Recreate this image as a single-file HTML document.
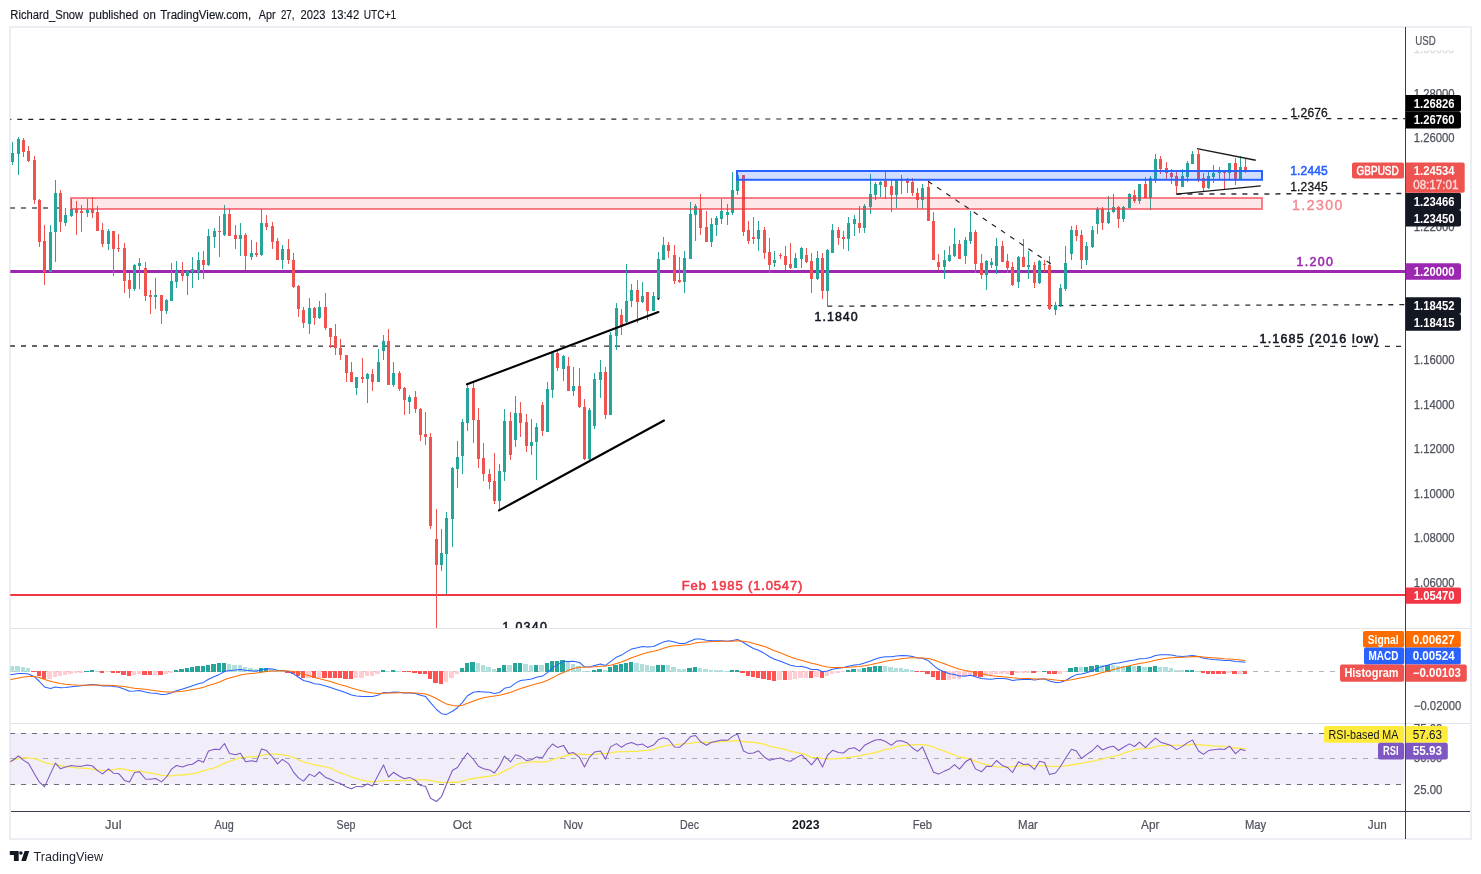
<!DOCTYPE html>
<html lang="en"><head><meta charset="utf-8"><title>GBPUSD chart</title>
<style>html,body{margin:0;padding:0;background:#fff}svg{display:block}</style></head>
<body><svg width="1481" height="874" viewBox="0 0 1481 874" font-family='"Liberation Sans", sans-serif'>
<rect width="1481" height="874" fill="#fff"/>
<text y="18.9" font-size="12" fill="#131722" stroke="#131722" stroke-width="0.15"><tspan x="10.3" textLength="72.9" lengthAdjust="spacingAndGlyphs">Richard_Snow</tspan> <tspan x="89.1" textLength="49.2" lengthAdjust="spacingAndGlyphs">published</tspan> <tspan x="143.1" textLength="12.7" lengthAdjust="spacingAndGlyphs">on</tspan> <tspan x="160.2" textLength="91.0" lengthAdjust="spacingAndGlyphs">TradingView.com,</tspan> <tspan x="258.7" textLength="16.8" lengthAdjust="spacingAndGlyphs">Apr</tspan> <tspan x="280.9" textLength="13.5" lengthAdjust="spacingAndGlyphs">27,</tspan> <tspan x="300.6" textLength="24.9" lengthAdjust="spacingAndGlyphs">2023</tspan> <tspan x="330.9" textLength="28.3" lengthAdjust="spacingAndGlyphs">13:42</tspan> <tspan x="363.8" textLength="32.4" lengthAdjust="spacingAndGlyphs">UTC+1</tspan></text>
<rect x="10" y="27" width="1461" height="812" fill="none" stroke="#eceef4" stroke-width="2"/>
<rect x="11" y="628" width="1459" height="1" fill="#e0e3eb"/>
<rect x="11" y="723" width="1459" height="1" fill="#e0e3eb"/>
<defs><clipPath id="cm"><rect x="10.3" y="28" width="1394.7" height="600"/></clipPath><clipPath id="cd"><rect x="10.3" y="629" width="1394.7" height="94"/></clipPath><clipPath id="cr"><rect x="10.3" y="724" width="1394.7" height="87"/></clipPath></defs>
<g clip-path="url(#cm)">
<path d="M6.3 119.45L1405 118.55" stroke="#222" stroke-width="1.15" stroke-dasharray="5 6" fill="none"/>
<path d="M10 208H59" stroke="#55555c" stroke-width="1.4" stroke-dasharray="5 6" fill="none"/>
<path d="M10 346L1402 346.4" stroke="#2e2e38" stroke-width="1.3" stroke-dasharray="5 6" fill="none"/>
<path d="M827.3 306.1L1405 304.7" stroke="#2e2e38" stroke-width="1.3" stroke-dasharray="5 6" fill="none"/>
<path d="M1176.4 194.1L1405 193.6" stroke="#2e2e38" stroke-width="1.5" stroke-dasharray="5 6" fill="none"/>
<rect x="10" y="270" width="1395" height="3" fill="#9c27b0"/>
<rect x="10" y="594" width="1395" height="2" fill="#f23645"/>
<g shape-rendering="crispEdges">
<rect x="12" y="142" width="1" height="23" fill="#26a69a"/>
<rect x="11" y="153" width="3" height="9" fill="#26a69a"/>
<rect x="18" y="137" width="1" height="38" fill="#26a69a"/>
<rect x="17" y="139" width="3" height="15" fill="#26a69a"/>
<rect x="23" y="138" width="1" height="19" fill="#ef5350"/>
<rect x="22" y="140" width="3" height="12" fill="#ef5350"/>
<rect x="28" y="146" width="1" height="16" fill="#ef5350"/>
<rect x="27" y="151" width="3" height="10" fill="#ef5350"/>
<rect x="34" y="156" width="1" height="48" fill="#ef5350"/>
<rect x="33" y="160" width="3" height="40" fill="#ef5350"/>
<rect x="39" y="199" width="1" height="48" fill="#ef5350"/>
<rect x="38" y="200" width="3" height="42" fill="#ef5350"/>
<rect x="44" y="225" width="1" height="60" fill="#ef5350"/>
<rect x="43" y="241" width="3" height="31" fill="#ef5350"/>
<rect x="50" y="225" width="1" height="47" fill="#26a69a"/>
<rect x="49" y="232" width="3" height="40" fill="#26a69a"/>
<rect x="55" y="180" width="1" height="82" fill="#26a69a"/>
<rect x="54" y="193" width="3" height="39" fill="#26a69a"/>
<rect x="60" y="190" width="1" height="42" fill="#ef5350"/>
<rect x="59" y="193" width="3" height="29" fill="#ef5350"/>
<rect x="65" y="208" width="1" height="18" fill="#26a69a"/>
<rect x="64" y="215" width="3" height="8" fill="#26a69a"/>
<rect x="71" y="199" width="1" height="18" fill="#26a69a"/>
<rect x="70" y="209" width="3" height="7" fill="#26a69a"/>
<rect x="76" y="201" width="1" height="34" fill="#ef5350"/>
<rect x="75" y="209" width="3" height="4" fill="#ef5350"/>
<rect x="81" y="205" width="1" height="27" fill="#ef5350"/>
<rect x="80" y="211" width="3" height="2" fill="#ef5350"/>
<rect x="87" y="199" width="1" height="18" fill="#26a69a"/>
<rect x="86" y="210" width="3" height="3" fill="#26a69a"/>
<rect x="92" y="197" width="1" height="21" fill="#ef5350"/>
<rect x="91" y="209" width="3" height="4" fill="#ef5350"/>
<rect x="97" y="206" width="1" height="25" fill="#ef5350"/>
<rect x="96" y="212" width="3" height="19" fill="#ef5350"/>
<rect x="102" y="223" width="1" height="24" fill="#ef5350"/>
<rect x="101" y="230" width="3" height="14" fill="#ef5350"/>
<rect x="108" y="229" width="1" height="21" fill="#26a69a"/>
<rect x="107" y="231" width="3" height="13" fill="#26a69a"/>
<rect x="113" y="231" width="1" height="45" fill="#ef5350"/>
<rect x="112" y="231" width="3" height="18" fill="#ef5350"/>
<rect x="118" y="234" width="1" height="18" fill="#ef5350"/>
<rect x="117" y="248" width="3" height="1" fill="#ef5350"/>
<rect x="124" y="243" width="1" height="50" fill="#ef5350"/>
<rect x="123" y="248" width="3" height="33" fill="#ef5350"/>
<rect x="129" y="273" width="1" height="25" fill="#ef5350"/>
<rect x="128" y="280" width="3" height="9" fill="#ef5350"/>
<rect x="134" y="264" width="1" height="27" fill="#26a69a"/>
<rect x="133" y="265" width="3" height="24" fill="#26a69a"/>
<rect x="139" y="258" width="1" height="31" fill="#26a69a"/>
<rect x="138" y="263" width="3" height="3" fill="#26a69a"/>
<rect x="145" y="262" width="1" height="39" fill="#ef5350"/>
<rect x="144" y="268" width="3" height="28" fill="#ef5350"/>
<rect x="150" y="290" width="1" height="24" fill="#ef5350"/>
<rect x="149" y="295" width="3" height="2" fill="#ef5350"/>
<rect x="155" y="278" width="1" height="31" fill="#26a69a"/>
<rect x="154" y="295" width="3" height="2" fill="#26a69a"/>
<rect x="161" y="295" width="1" height="29" fill="#ef5350"/>
<rect x="160" y="295" width="3" height="16" fill="#ef5350"/>
<rect x="166" y="299" width="1" height="15" fill="#26a69a"/>
<rect x="165" y="300" width="3" height="11" fill="#26a69a"/>
<rect x="171" y="263" width="1" height="38" fill="#26a69a"/>
<rect x="170" y="281" width="3" height="20" fill="#26a69a"/>
<rect x="176" y="261" width="1" height="27" fill="#26a69a"/>
<rect x="175" y="271" width="3" height="11" fill="#26a69a"/>
<rect x="182" y="262" width="1" height="19" fill="#ef5350"/>
<rect x="181" y="271" width="3" height="5" fill="#ef5350"/>
<rect x="187" y="270" width="1" height="25" fill="#26a69a"/>
<rect x="186" y="271" width="3" height="5" fill="#26a69a"/>
<rect x="192" y="257" width="1" height="31" fill="#26a69a"/>
<rect x="191" y="269" width="3" height="3" fill="#26a69a"/>
<rect x="198" y="252" width="1" height="28" fill="#26a69a"/>
<rect x="197" y="260" width="3" height="12" fill="#26a69a"/>
<rect x="203" y="251" width="1" height="28" fill="#ef5350"/>
<rect x="202" y="260" width="3" height="5" fill="#ef5350"/>
<rect x="208" y="229" width="1" height="37" fill="#26a69a"/>
<rect x="207" y="236" width="3" height="29" fill="#26a69a"/>
<rect x="214" y="228" width="1" height="20" fill="#26a69a"/>
<rect x="213" y="231" width="3" height="6" fill="#26a69a"/>
<rect x="219" y="216" width="1" height="41" fill="#ef5350"/>
<rect x="218" y="231" width="3" height="1" fill="#ef5350"/>
<rect x="224" y="205" width="1" height="31" fill="#26a69a"/>
<rect x="223" y="214" width="3" height="21" fill="#26a69a"/>
<rect x="229" y="209" width="1" height="27" fill="#ef5350"/>
<rect x="228" y="214" width="3" height="22" fill="#ef5350"/>
<rect x="235" y="225" width="1" height="24" fill="#ef5350"/>
<rect x="234" y="235" width="3" height="4" fill="#ef5350"/>
<rect x="240" y="223" width="1" height="33" fill="#26a69a"/>
<rect x="239" y="235" width="3" height="4" fill="#26a69a"/>
<rect x="245" y="233" width="1" height="37" fill="#ef5350"/>
<rect x="244" y="235" width="3" height="21" fill="#ef5350"/>
<rect x="251" y="240" width="1" height="20" fill="#26a69a"/>
<rect x="250" y="253" width="3" height="4" fill="#26a69a"/>
<rect x="256" y="242" width="1" height="15" fill="#ef5350"/>
<rect x="255" y="253" width="3" height="2" fill="#ef5350"/>
<rect x="261" y="209" width="1" height="47" fill="#26a69a"/>
<rect x="260" y="223" width="3" height="32" fill="#26a69a"/>
<rect x="266" y="215" width="1" height="15" fill="#ef5350"/>
<rect x="265" y="223" width="3" height="4" fill="#ef5350"/>
<rect x="272" y="222" width="1" height="27" fill="#ef5350"/>
<rect x="271" y="226" width="3" height="16" fill="#ef5350"/>
<rect x="277" y="238" width="1" height="22" fill="#ef5350"/>
<rect x="276" y="241" width="3" height="19" fill="#ef5350"/>
<rect x="282" y="245" width="1" height="24" fill="#26a69a"/>
<rect x="281" y="249" width="3" height="11" fill="#26a69a"/>
<rect x="288" y="239" width="1" height="25" fill="#ef5350"/>
<rect x="287" y="249" width="3" height="11" fill="#ef5350"/>
<rect x="293" y="253" width="1" height="35" fill="#ef5350"/>
<rect x="292" y="260" width="3" height="27" fill="#ef5350"/>
<rect x="298" y="285" width="1" height="32" fill="#ef5350"/>
<rect x="297" y="286" width="3" height="23" fill="#ef5350"/>
<rect x="303" y="307" width="1" height="21" fill="#ef5350"/>
<rect x="302" y="310" width="3" height="13" fill="#ef5350"/>
<rect x="309" y="298" width="1" height="36" fill="#26a69a"/>
<rect x="308" y="308" width="3" height="16" fill="#26a69a"/>
<rect x="314" y="307" width="1" height="18" fill="#ef5350"/>
<rect x="313" y="308" width="3" height="10" fill="#ef5350"/>
<rect x="319" y="301" width="1" height="18" fill="#26a69a"/>
<rect x="318" y="307" width="3" height="11" fill="#26a69a"/>
<rect x="325" y="293" width="1" height="37" fill="#ef5350"/>
<rect x="324" y="307" width="3" height="21" fill="#ef5350"/>
<rect x="330" y="328" width="1" height="20" fill="#ef5350"/>
<rect x="329" y="328" width="3" height="9" fill="#ef5350"/>
<rect x="335" y="324" width="1" height="31" fill="#ef5350"/>
<rect x="334" y="336" width="3" height="12" fill="#ef5350"/>
<rect x="340" y="339" width="1" height="21" fill="#ef5350"/>
<rect x="339" y="348" width="3" height="7" fill="#ef5350"/>
<rect x="346" y="355" width="1" height="27" fill="#ef5350"/>
<rect x="345" y="355" width="3" height="18" fill="#ef5350"/>
<rect x="351" y="362" width="1" height="20" fill="#ef5350"/>
<rect x="350" y="372" width="3" height="10" fill="#ef5350"/>
<rect x="356" y="377" width="1" height="18" fill="#26a69a"/>
<rect x="355" y="377" width="3" height="11" fill="#26a69a"/>
<rect x="362" y="358" width="1" height="25" fill="#ef5350"/>
<rect x="361" y="377" width="3" height="2" fill="#ef5350"/>
<rect x="367" y="373" width="1" height="30" fill="#26a69a"/>
<rect x="366" y="374" width="3" height="5" fill="#26a69a"/>
<rect x="372" y="369" width="1" height="22" fill="#ef5350"/>
<rect x="371" y="374" width="3" height="8" fill="#ef5350"/>
<rect x="378" y="349" width="1" height="33" fill="#26a69a"/>
<rect x="377" y="362" width="3" height="20" fill="#26a69a"/>
<rect x="383" y="335" width="1" height="25" fill="#26a69a"/>
<rect x="382" y="341" width="3" height="10" fill="#26a69a"/>
<rect x="388" y="329" width="1" height="56" fill="#ef5350"/>
<rect x="387" y="341" width="3" height="44" fill="#ef5350"/>
<rect x="393" y="362" width="1" height="25" fill="#26a69a"/>
<rect x="392" y="373" width="3" height="12" fill="#26a69a"/>
<rect x="399" y="371" width="1" height="20" fill="#ef5350"/>
<rect x="398" y="373" width="3" height="16" fill="#ef5350"/>
<rect x="404" y="387" width="1" height="28" fill="#ef5350"/>
<rect x="403" y="388" width="3" height="12" fill="#ef5350"/>
<rect x="409" y="395" width="1" height="19" fill="#26a69a"/>
<rect x="408" y="397" width="3" height="5" fill="#26a69a"/>
<rect x="415" y="391" width="1" height="22" fill="#ef5350"/>
<rect x="414" y="397" width="3" height="12" fill="#ef5350"/>
<rect x="420" y="408" width="1" height="33" fill="#ef5350"/>
<rect x="419" y="409" width="3" height="26" fill="#ef5350"/>
<rect x="425" y="412" width="1" height="33" fill="#ef5350"/>
<rect x="424" y="434" width="3" height="3" fill="#ef5350"/>
<rect x="430" y="433" width="1" height="96" fill="#ef5350"/>
<rect x="429" y="437" width="3" height="89" fill="#ef5350"/>
<rect x="436" y="509" width="1" height="119" fill="#ef5350"/>
<rect x="435" y="539" width="3" height="26" fill="#ef5350"/>
<rect x="441" y="529" width="1" height="42" fill="#26a69a"/>
<rect x="440" y="553" width="3" height="12" fill="#26a69a"/>
<rect x="446" y="512" width="1" height="82" fill="#26a69a"/>
<rect x="445" y="518" width="3" height="36" fill="#26a69a"/>
<rect x="452" y="467" width="1" height="80" fill="#26a69a"/>
<rect x="451" y="468" width="3" height="51" fill="#26a69a"/>
<rect x="457" y="441" width="1" height="47" fill="#26a69a"/>
<rect x="456" y="457" width="3" height="12" fill="#26a69a"/>
<rect x="462" y="419" width="1" height="55" fill="#26a69a"/>
<rect x="461" y="422" width="3" height="34" fill="#26a69a"/>
<rect x="467" y="385" width="1" height="46" fill="#26a69a"/>
<rect x="466" y="388" width="3" height="35" fill="#26a69a"/>
<rect x="473" y="383" width="1" height="60" fill="#ef5350"/>
<rect x="472" y="388" width="3" height="32" fill="#ef5350"/>
<rect x="478" y="408" width="1" height="60" fill="#ef5350"/>
<rect x="477" y="420" width="3" height="39" fill="#ef5350"/>
<rect x="483" y="443" width="1" height="38" fill="#ef5350"/>
<rect x="482" y="458" width="3" height="16" fill="#ef5350"/>
<rect x="489" y="469" width="1" height="20" fill="#ef5350"/>
<rect x="488" y="474" width="3" height="8" fill="#ef5350"/>
<rect x="494" y="453" width="1" height="51" fill="#ef5350"/>
<rect x="493" y="481" width="3" height="20" fill="#ef5350"/>
<rect x="499" y="464" width="1" height="46" fill="#26a69a"/>
<rect x="498" y="471" width="3" height="30" fill="#26a69a"/>
<rect x="504" y="409" width="1" height="72" fill="#26a69a"/>
<rect x="503" y="421" width="3" height="51" fill="#26a69a"/>
<rect x="510" y="412" width="1" height="48" fill="#ef5350"/>
<rect x="509" y="421" width="3" height="34" fill="#ef5350"/>
<rect x="515" y="396" width="1" height="51" fill="#26a69a"/>
<rect x="514" y="413" width="3" height="27" fill="#26a69a"/>
<rect x="520" y="402" width="1" height="35" fill="#ef5350"/>
<rect x="519" y="413" width="3" height="10" fill="#ef5350"/>
<rect x="526" y="414" width="1" height="38" fill="#ef5350"/>
<rect x="525" y="422" width="3" height="24" fill="#ef5350"/>
<rect x="531" y="419" width="1" height="36" fill="#26a69a"/>
<rect x="530" y="442" width="3" height="4" fill="#26a69a"/>
<rect x="536" y="423" width="1" height="57" fill="#26a69a"/>
<rect x="535" y="427" width="3" height="15" fill="#26a69a"/>
<rect x="542" y="402" width="1" height="34" fill="#ef5350"/>
<rect x="541" y="405" width="3" height="26" fill="#ef5350"/>
<rect x="547" y="382" width="1" height="50" fill="#26a69a"/>
<rect x="546" y="389" width="3" height="43" fill="#26a69a"/>
<rect x="552" y="353" width="1" height="45" fill="#26a69a"/>
<rect x="551" y="353" width="3" height="37" fill="#26a69a"/>
<rect x="557" y="351" width="1" height="20" fill="#ef5350"/>
<rect x="556" y="353" width="3" height="15" fill="#ef5350"/>
<rect x="563" y="355" width="1" height="26" fill="#26a69a"/>
<rect x="562" y="356" width="3" height="13" fill="#26a69a"/>
<rect x="568" y="357" width="1" height="34" fill="#ef5350"/>
<rect x="567" y="366" width="3" height="25" fill="#ef5350"/>
<rect x="573" y="367" width="1" height="29" fill="#26a69a"/>
<rect x="572" y="386" width="3" height="5" fill="#26a69a"/>
<rect x="579" y="368" width="1" height="40" fill="#ef5350"/>
<rect x="578" y="386" width="3" height="21" fill="#ef5350"/>
<rect x="584" y="399" width="1" height="61" fill="#ef5350"/>
<rect x="583" y="407" width="3" height="52" fill="#ef5350"/>
<rect x="589" y="408" width="1" height="52" fill="#26a69a"/>
<rect x="588" y="410" width="3" height="49" fill="#26a69a"/>
<rect x="594" y="373" width="1" height="56" fill="#26a69a"/>
<rect x="593" y="379" width="3" height="47" fill="#26a69a"/>
<rect x="600" y="360" width="1" height="38" fill="#26a69a"/>
<rect x="599" y="372" width="3" height="8" fill="#26a69a"/>
<rect x="605" y="367" width="1" height="52" fill="#ef5350"/>
<rect x="604" y="372" width="3" height="43" fill="#ef5350"/>
<rect x="610" y="332" width="1" height="83" fill="#26a69a"/>
<rect x="609" y="335" width="3" height="80" fill="#26a69a"/>
<rect x="616" y="303" width="1" height="47" fill="#26a69a"/>
<rect x="615" y="308" width="3" height="28" fill="#26a69a"/>
<rect x="621" y="309" width="1" height="26" fill="#ef5350"/>
<rect x="620" y="315" width="3" height="12" fill="#ef5350"/>
<rect x="626" y="264" width="1" height="59" fill="#26a69a"/>
<rect x="625" y="301" width="3" height="21" fill="#26a69a"/>
<rect x="631" y="284" width="1" height="23" fill="#26a69a"/>
<rect x="630" y="290" width="3" height="11" fill="#26a69a"/>
<rect x="637" y="280" width="1" height="43" fill="#ef5350"/>
<rect x="636" y="290" width="3" height="12" fill="#ef5350"/>
<rect x="642" y="282" width="1" height="21" fill="#26a69a"/>
<rect x="641" y="296" width="3" height="6" fill="#26a69a"/>
<rect x="647" y="292" width="1" height="28" fill="#ef5350"/>
<rect x="646" y="292" width="3" height="19" fill="#ef5350"/>
<rect x="653" y="292" width="1" height="19" fill="#26a69a"/>
<rect x="652" y="296" width="3" height="15" fill="#26a69a"/>
<rect x="658" y="252" width="1" height="48" fill="#26a69a"/>
<rect x="657" y="259" width="3" height="40" fill="#26a69a"/>
<rect x="663" y="237" width="1" height="23" fill="#26a69a"/>
<rect x="662" y="245" width="3" height="15" fill="#26a69a"/>
<rect x="668" y="242" width="1" height="16" fill="#ef5350"/>
<rect x="667" y="245" width="3" height="6" fill="#ef5350"/>
<rect x="674" y="245" width="1" height="39" fill="#ef5350"/>
<rect x="673" y="255" width="3" height="26" fill="#ef5350"/>
<rect x="679" y="257" width="1" height="26" fill="#ef5350"/>
<rect x="678" y="280" width="3" height="2" fill="#ef5350"/>
<rect x="684" y="251" width="1" height="42" fill="#26a69a"/>
<rect x="683" y="258" width="3" height="24" fill="#26a69a"/>
<rect x="690" y="202" width="1" height="57" fill="#26a69a"/>
<rect x="689" y="214" width="3" height="45" fill="#26a69a"/>
<rect x="695" y="204" width="1" height="37" fill="#26a69a"/>
<rect x="694" y="206" width="3" height="9" fill="#26a69a"/>
<rect x="700" y="194" width="1" height="41" fill="#ef5350"/>
<rect x="699" y="209" width="3" height="19" fill="#ef5350"/>
<rect x="706" y="211" width="1" height="31" fill="#ef5350"/>
<rect x="705" y="227" width="3" height="15" fill="#ef5350"/>
<rect x="711" y="218" width="1" height="29" fill="#26a69a"/>
<rect x="710" y="224" width="3" height="18" fill="#26a69a"/>
<rect x="716" y="216" width="1" height="20" fill="#26a69a"/>
<rect x="715" y="218" width="3" height="7" fill="#26a69a"/>
<rect x="721" y="199" width="1" height="25" fill="#26a69a"/>
<rect x="720" y="211" width="3" height="8" fill="#26a69a"/>
<rect x="727" y="204" width="1" height="21" fill="#26a69a"/>
<rect x="726" y="212" width="3" height="3" fill="#26a69a"/>
<rect x="732" y="172" width="1" height="43" fill="#26a69a"/>
<rect x="731" y="190" width="3" height="23" fill="#26a69a"/>
<rect x="737" y="173" width="1" height="22" fill="#26a69a"/>
<rect x="736" y="175" width="3" height="16" fill="#26a69a"/>
<rect x="743" y="175" width="1" height="61" fill="#ef5350"/>
<rect x="742" y="175" width="3" height="57" fill="#ef5350"/>
<rect x="748" y="221" width="1" height="23" fill="#ef5350"/>
<rect x="747" y="230" width="3" height="11" fill="#ef5350"/>
<rect x="753" y="217" width="1" height="27" fill="#ef5350"/>
<rect x="752" y="237" width="3" height="2" fill="#ef5350"/>
<rect x="758" y="221" width="1" height="30" fill="#26a69a"/>
<rect x="757" y="230" width="3" height="9" fill="#26a69a"/>
<rect x="764" y="227" width="1" height="32" fill="#ef5350"/>
<rect x="763" y="230" width="3" height="23" fill="#ef5350"/>
<rect x="769" y="238" width="1" height="35" fill="#ef5350"/>
<rect x="768" y="252" width="3" height="13" fill="#ef5350"/>
<rect x="774" y="251" width="1" height="16" fill="#26a69a"/>
<rect x="773" y="260" width="3" height="3" fill="#26a69a"/>
<rect x="780" y="253" width="1" height="6" fill="#ef5350"/>
<rect x="779" y="255" width="3" height="1" fill="#ef5350"/>
<rect x="785" y="246" width="1" height="24" fill="#ef5350"/>
<rect x="784" y="256" width="3" height="9" fill="#ef5350"/>
<rect x="790" y="243" width="1" height="26" fill="#ef5350"/>
<rect x="789" y="264" width="3" height="4" fill="#ef5350"/>
<rect x="795" y="253" width="1" height="15" fill="#26a69a"/>
<rect x="794" y="258" width="3" height="10" fill="#26a69a"/>
<rect x="801" y="247" width="1" height="21" fill="#26a69a"/>
<rect x="800" y="248" width="3" height="11" fill="#26a69a"/>
<rect x="806" y="248" width="1" height="15" fill="#ef5350"/>
<rect x="805" y="255" width="3" height="7" fill="#ef5350"/>
<rect x="811" y="253" width="1" height="40" fill="#ef5350"/>
<rect x="810" y="261" width="3" height="18" fill="#ef5350"/>
<rect x="817" y="251" width="1" height="29" fill="#26a69a"/>
<rect x="816" y="258" width="3" height="21" fill="#26a69a"/>
<rect x="822" y="253" width="1" height="46" fill="#ef5350"/>
<rect x="821" y="258" width="3" height="33" fill="#ef5350"/>
<rect x="827" y="249" width="1" height="57" fill="#26a69a"/>
<rect x="826" y="250" width="3" height="41" fill="#26a69a"/>
<rect x="832" y="224" width="1" height="29" fill="#26a69a"/>
<rect x="831" y="230" width="3" height="23" fill="#26a69a"/>
<rect x="838" y="227" width="1" height="18" fill="#ef5350"/>
<rect x="837" y="230" width="3" height="8" fill="#ef5350"/>
<rect x="843" y="231" width="1" height="18" fill="#ef5350"/>
<rect x="842" y="237" width="3" height="2" fill="#ef5350"/>
<rect x="848" y="217" width="1" height="34" fill="#26a69a"/>
<rect x="847" y="223" width="3" height="16" fill="#26a69a"/>
<rect x="854" y="215" width="1" height="21" fill="#26a69a"/>
<rect x="853" y="219" width="3" height="5" fill="#26a69a"/>
<rect x="859" y="206" width="1" height="27" fill="#ef5350"/>
<rect x="858" y="223" width="3" height="5" fill="#ef5350"/>
<rect x="864" y="204" width="1" height="29" fill="#26a69a"/>
<rect x="863" y="206" width="3" height="22" fill="#26a69a"/>
<rect x="870" y="174" width="1" height="40" fill="#26a69a"/>
<rect x="869" y="194" width="3" height="13" fill="#26a69a"/>
<rect x="875" y="182" width="1" height="18" fill="#26a69a"/>
<rect x="874" y="184" width="3" height="11" fill="#26a69a"/>
<rect x="880" y="181" width="1" height="16" fill="#26a69a"/>
<rect x="879" y="182" width="3" height="3" fill="#26a69a"/>
<rect x="885" y="171" width="1" height="28" fill="#ef5350"/>
<rect x="884" y="181" width="3" height="6" fill="#ef5350"/>
<rect x="891" y="180" width="1" height="32" fill="#ef5350"/>
<rect x="890" y="186" width="3" height="9" fill="#ef5350"/>
<rect x="896" y="179" width="1" height="29" fill="#26a69a"/>
<rect x="895" y="180" width="3" height="15" fill="#26a69a"/>
<rect x="901" y="175" width="1" height="19" fill="#26a69a"/>
<rect x="900" y="179" width="3" height="2" fill="#26a69a"/>
<rect x="907" y="178" width="1" height="15" fill="#ef5350"/>
<rect x="906" y="179" width="3" height="4" fill="#ef5350"/>
<rect x="912" y="178" width="1" height="18" fill="#ef5350"/>
<rect x="911" y="182" width="3" height="11" fill="#ef5350"/>
<rect x="917" y="188" width="1" height="20" fill="#ef5350"/>
<rect x="916" y="193" width="3" height="7" fill="#ef5350"/>
<rect x="922" y="184" width="1" height="25" fill="#26a69a"/>
<rect x="921" y="188" width="3" height="12" fill="#26a69a"/>
<rect x="928" y="181" width="1" height="40" fill="#ef5350"/>
<rect x="927" y="187" width="3" height="34" fill="#ef5350"/>
<rect x="933" y="212" width="1" height="48" fill="#ef5350"/>
<rect x="932" y="221" width="3" height="39" fill="#ef5350"/>
<rect x="938" y="254" width="1" height="16" fill="#ef5350"/>
<rect x="937" y="262" width="3" height="5" fill="#ef5350"/>
<rect x="944" y="250" width="1" height="29" fill="#26a69a"/>
<rect x="943" y="260" width="3" height="7" fill="#26a69a"/>
<rect x="949" y="246" width="1" height="16" fill="#26a69a"/>
<rect x="948" y="255" width="3" height="6" fill="#26a69a"/>
<rect x="954" y="228" width="1" height="29" fill="#26a69a"/>
<rect x="953" y="244" width="3" height="12" fill="#26a69a"/>
<rect x="959" y="240" width="1" height="19" fill="#ef5350"/>
<rect x="958" y="244" width="3" height="15" fill="#ef5350"/>
<rect x="965" y="237" width="1" height="27" fill="#26a69a"/>
<rect x="964" y="240" width="3" height="16" fill="#26a69a"/>
<rect x="970" y="211" width="1" height="33" fill="#26a69a"/>
<rect x="969" y="232" width="3" height="9" fill="#26a69a"/>
<rect x="975" y="230" width="1" height="43" fill="#ef5350"/>
<rect x="974" y="232" width="3" height="32" fill="#ef5350"/>
<rect x="981" y="254" width="1" height="25" fill="#ef5350"/>
<rect x="980" y="263" width="3" height="12" fill="#ef5350"/>
<rect x="986" y="260" width="1" height="30" fill="#26a69a"/>
<rect x="985" y="261" width="3" height="14" fill="#26a69a"/>
<rect x="991" y="258" width="1" height="10" fill="#26a69a"/>
<rect x="990" y="262" width="3" height="3" fill="#26a69a"/>
<rect x="996" y="238" width="1" height="36" fill="#26a69a"/>
<rect x="995" y="246" width="3" height="20" fill="#26a69a"/>
<rect x="1002" y="241" width="1" height="21" fill="#ef5350"/>
<rect x="1001" y="246" width="3" height="16" fill="#ef5350"/>
<rect x="1007" y="254" width="1" height="19" fill="#ef5350"/>
<rect x="1006" y="261" width="3" height="7" fill="#ef5350"/>
<rect x="1012" y="262" width="1" height="24" fill="#ef5350"/>
<rect x="1011" y="267" width="3" height="18" fill="#ef5350"/>
<rect x="1018" y="256" width="1" height="32" fill="#26a69a"/>
<rect x="1017" y="257" width="3" height="25" fill="#26a69a"/>
<rect x="1023" y="239" width="1" height="28" fill="#ef5350"/>
<rect x="1022" y="257" width="3" height="10" fill="#ef5350"/>
<rect x="1028" y="251" width="1" height="28" fill="#26a69a"/>
<rect x="1027" y="265" width="3" height="2" fill="#26a69a"/>
<rect x="1034" y="262" width="1" height="26" fill="#ef5350"/>
<rect x="1033" y="265" width="3" height="18" fill="#ef5350"/>
<rect x="1039" y="260" width="1" height="24" fill="#26a69a"/>
<rect x="1038" y="261" width="3" height="22" fill="#26a69a"/>
<rect x="1044" y="260" width="1" height="12" fill="#ef5350"/>
<rect x="1043" y="264" width="3" height="1" fill="#ef5350"/>
<rect x="1049" y="256" width="1" height="54" fill="#ef5350"/>
<rect x="1048" y="265" width="3" height="44" fill="#ef5350"/>
<rect x="1055" y="302" width="1" height="13" fill="#26a69a"/>
<rect x="1054" y="305" width="3" height="5" fill="#26a69a"/>
<rect x="1060" y="284" width="1" height="23" fill="#26a69a"/>
<rect x="1059" y="288" width="3" height="17" fill="#26a69a"/>
<rect x="1065" y="246" width="1" height="45" fill="#26a69a"/>
<rect x="1064" y="263" width="3" height="26" fill="#26a69a"/>
<rect x="1071" y="226" width="1" height="34" fill="#26a69a"/>
<rect x="1070" y="230" width="3" height="24" fill="#26a69a"/>
<rect x="1076" y="225" width="1" height="16" fill="#ef5350"/>
<rect x="1075" y="230" width="3" height="6" fill="#ef5350"/>
<rect x="1081" y="230" width="1" height="39" fill="#ef5350"/>
<rect x="1080" y="235" width="3" height="25" fill="#ef5350"/>
<rect x="1086" y="242" width="1" height="23" fill="#26a69a"/>
<rect x="1085" y="246" width="3" height="14" fill="#26a69a"/>
<rect x="1092" y="226" width="1" height="22" fill="#26a69a"/>
<rect x="1091" y="230" width="3" height="17" fill="#26a69a"/>
<rect x="1097" y="207" width="1" height="27" fill="#26a69a"/>
<rect x="1096" y="209" width="3" height="15" fill="#26a69a"/>
<rect x="1102" y="207" width="1" height="23" fill="#ef5350"/>
<rect x="1101" y="209" width="3" height="14" fill="#ef5350"/>
<rect x="1108" y="196" width="1" height="28" fill="#26a69a"/>
<rect x="1107" y="212" width="3" height="11" fill="#26a69a"/>
<rect x="1113" y="194" width="1" height="19" fill="#26a69a"/>
<rect x="1112" y="207" width="3" height="5" fill="#26a69a"/>
<rect x="1118" y="206" width="1" height="22" fill="#ef5350"/>
<rect x="1117" y="207" width="3" height="12" fill="#ef5350"/>
<rect x="1123" y="206" width="1" height="16" fill="#26a69a"/>
<rect x="1122" y="207" width="3" height="12" fill="#26a69a"/>
<rect x="1129" y="193" width="1" height="15" fill="#26a69a"/>
<rect x="1128" y="194" width="3" height="14" fill="#26a69a"/>
<rect x="1134" y="190" width="1" height="13" fill="#ef5350"/>
<rect x="1133" y="195" width="3" height="6" fill="#ef5350"/>
<rect x="1139" y="184" width="1" height="20" fill="#26a69a"/>
<rect x="1138" y="184" width="3" height="17" fill="#26a69a"/>
<rect x="1145" y="177" width="1" height="21" fill="#ef5350"/>
<rect x="1144" y="184" width="3" height="14" fill="#ef5350"/>
<rect x="1150" y="176" width="1" height="34" fill="#26a69a"/>
<rect x="1149" y="178" width="3" height="20" fill="#26a69a"/>
<rect x="1155" y="154" width="1" height="29" fill="#26a69a"/>
<rect x="1154" y="159" width="3" height="20" fill="#26a69a"/>
<rect x="1160" y="156" width="1" height="18" fill="#ef5350"/>
<rect x="1159" y="159" width="3" height="10" fill="#ef5350"/>
<rect x="1166" y="162" width="1" height="17" fill="#ef5350"/>
<rect x="1165" y="168" width="3" height="5" fill="#ef5350"/>
<rect x="1171" y="169" width="1" height="15" fill="#ef5350"/>
<rect x="1170" y="173" width="3" height="4" fill="#ef5350"/>
<rect x="1176" y="172" width="1" height="22" fill="#ef5350"/>
<rect x="1175" y="176" width="3" height="10" fill="#ef5350"/>
<rect x="1182" y="169" width="1" height="18" fill="#26a69a"/>
<rect x="1181" y="176" width="3" height="11" fill="#26a69a"/>
<rect x="1187" y="161" width="1" height="21" fill="#26a69a"/>
<rect x="1186" y="163" width="3" height="14" fill="#26a69a"/>
<rect x="1192" y="151" width="1" height="13" fill="#26a69a"/>
<rect x="1191" y="154" width="3" height="10" fill="#26a69a"/>
<rect x="1198" y="150" width="1" height="32" fill="#ef5350"/>
<rect x="1197" y="154" width="3" height="25" fill="#ef5350"/>
<rect x="1203" y="173" width="1" height="18" fill="#ef5350"/>
<rect x="1202" y="178" width="3" height="10" fill="#ef5350"/>
<rect x="1208" y="171" width="1" height="18" fill="#26a69a"/>
<rect x="1207" y="176" width="3" height="12" fill="#26a69a"/>
<rect x="1213" y="165" width="1" height="18" fill="#26a69a"/>
<rect x="1212" y="173" width="3" height="4" fill="#26a69a"/>
<rect x="1219" y="167" width="1" height="13" fill="#26a69a"/>
<rect x="1218" y="172" width="3" height="1" fill="#26a69a"/>
<rect x="1224" y="171" width="1" height="18" fill="#ef5350"/>
<rect x="1223" y="172" width="3" height="1" fill="#ef5350"/>
<rect x="1229" y="163" width="1" height="16" fill="#26a69a"/>
<rect x="1228" y="163" width="3" height="10" fill="#26a69a"/>
<rect x="1235" y="158" width="1" height="27" fill="#ef5350"/>
<rect x="1234" y="163" width="3" height="16" fill="#ef5350"/>
<rect x="1240" y="156" width="1" height="24" fill="#26a69a"/>
<rect x="1239" y="167" width="3" height="13" fill="#26a69a"/>
<rect x="1245" y="159" width="1" height="14" fill="#ef5350"/>
<rect x="1244" y="167" width="3" height="3" fill="#ef5350"/>
</g>
<rect x="71" y="198" width="1191" height="11" fill="#f23645" fill-opacity="0.12" stroke="#f23645" stroke-opacity="0.62" stroke-width="2"/>
<rect x="737" y="171" width="525" height="8.8" fill="#2962ff" fill-opacity="0.22" stroke="#2962ff" stroke-width="2"/>
<path d="M467 384.3L658.4 312" stroke="#000" stroke-width="2.1" stroke-linecap="round" fill="none"/>
<path d="M499 510.4L664 420.5" stroke="#000" stroke-width="2.1" stroke-linecap="round" fill="none"/>
<path d="M928 181.2L1051 264" stroke="#222" stroke-width="1.15" stroke-dasharray="5 6" fill="none"/>
<path d="M1197 148.6L1255.8 160.2" stroke="#1a1a1a" stroke-width="1.4" fill="none"/>
<path d="M1176.4 194.1L1260.8 185.9" stroke="#1a1a1a" stroke-width="1.4" fill="none"/>
<circle cx="658.4" cy="298.9" r="0.9" fill="#111"/>
<text x="1290.2" y="116.8" font-size="12" fill="#15171c" textLength="37.6" lengthAdjust="spacing" stroke="#15171c" stroke-width="0.3">1.2676</text>
<text x="1290.2" y="174.9" font-size="12" fill="#2962ff" textLength="37.6" lengthAdjust="spacing" stroke="#2962ff" stroke-width="0.55">1.2445</text>
<text x="1290.2" y="191.0" font-size="12" fill="#15171c" textLength="37.6" lengthAdjust="spacing" stroke="#15171c" stroke-width="0.3">1.2345</text>
<text x="1292.1" y="209.6" font-size="14" fill="#f7848d" textLength="50.2" lengthAdjust="spacing" stroke="#f7848d" stroke-width="0.35">1.2300</text>
<text x="1296.6" y="265.5" font-size="12.4" fill="#9c27b0" textLength="36.3" lengthAdjust="spacing" stroke="#9c27b0" stroke-width="0.55">1.200</text>
<text x="1259.5" y="342.5" font-size="12.5" fill="#131722" textLength="118.9" lengthAdjust="spacing" stroke="#131722" stroke-width="0.55">1.1685 (2016 low)</text>
<text x="814.5" y="321.0" font-size="12.4" fill="#131722" textLength="43.2" lengthAdjust="spacing" stroke="#131722" stroke-width="0.55">1.1840</text>
<text x="681.8" y="589.7" font-size="13" fill="#f23645" textLength="120.5" lengthAdjust="spacing" stroke="#f23645" stroke-width="0.55">Feb 1985 (1.0547)</text>
<text x="502.6" y="630.7" font-size="12.4" fill="#131722" textLength="44.2" lengthAdjust="spacing" stroke="#131722" stroke-width="0.55">1.0340</text>
</g>
<g clip-path="url(#cd)">
<path d="M10 671.5H1405" stroke="#b2b5be" stroke-width="1" stroke-dasharray="5 6" fill="none"/>
<g shape-rendering="crispEdges">
<rect x="10" y="666" width="4" height="6" fill="#b2dfdb"/>
<rect x="15" y="666" width="5" height="6" fill="#b2dfdb"/>
<rect x="21" y="667" width="4" height="5" fill="#b2dfdb"/>
<rect x="26" y="668" width="4" height="4" fill="#b2dfdb"/>
<rect x="31" y="671" width="5" height="1" fill="#ff5252"/>
<rect x="37" y="671" width="4" height="5" fill="#ff5252"/>
<rect x="42" y="671" width="4" height="8" fill="#ff5252"/>
<rect x="47" y="671" width="5" height="8" fill="#ffcdd2"/>
<rect x="53" y="671" width="4" height="6" fill="#ffcdd2"/>
<rect x="58" y="671" width="4" height="5" fill="#ffcdd2"/>
<rect x="63" y="671" width="4" height="4" fill="#ffcdd2"/>
<rect x="68" y="671" width="5" height="3" fill="#ffcdd2"/>
<rect x="74" y="671" width="4" height="2" fill="#ffcdd2"/>
<rect x="79" y="671" width="4" height="2" fill="#ffcdd2"/>
<rect x="84" y="671" width="5" height="1" fill="#26a69a"/>
<rect x="90" y="670" width="4" height="2" fill="#26a69a"/>
<rect x="95" y="671" width="4" height="1" fill="#b2dfdb"/>
<rect x="100" y="671" width="4" height="2" fill="#ff5252"/>
<rect x="105" y="671" width="5" height="1" fill="#ffcdd2"/>
<rect x="111" y="671" width="4" height="2" fill="#ff5252"/>
<rect x="116" y="671" width="4" height="2" fill="#ff5252"/>
<rect x="121" y="671" width="5" height="4" fill="#ff5252"/>
<rect x="127" y="671" width="4" height="5" fill="#ff5252"/>
<rect x="132" y="671" width="4" height="4" fill="#ffcdd2"/>
<rect x="137" y="671" width="4" height="3" fill="#ffcdd2"/>
<rect x="142" y="671" width="5" height="4" fill="#ff5252"/>
<rect x="148" y="671" width="4" height="4" fill="#ff5252"/>
<rect x="153" y="671" width="4" height="4" fill="#ffcdd2"/>
<rect x="158" y="671" width="5" height="4" fill="#ff5252"/>
<rect x="164" y="671" width="4" height="3" fill="#ffcdd2"/>
<rect x="169" y="671" width="4" height="2" fill="#ffcdd2"/>
<rect x="174" y="670" width="4" height="2" fill="#26a69a"/>
<rect x="179" y="669" width="5" height="3" fill="#26a69a"/>
<rect x="185" y="668" width="4" height="4" fill="#26a69a"/>
<rect x="190" y="667" width="4" height="5" fill="#26a69a"/>
<rect x="195" y="666" width="5" height="6" fill="#26a69a"/>
<rect x="201" y="666" width="4" height="6" fill="#26a69a"/>
<rect x="206" y="665" width="4" height="7" fill="#26a69a"/>
<rect x="211" y="664" width="5" height="8" fill="#26a69a"/>
<rect x="217" y="663" width="4" height="9" fill="#26a69a"/>
<rect x="222" y="663" width="4" height="9" fill="#26a69a"/>
<rect x="227" y="664" width="4" height="8" fill="#b2dfdb"/>
<rect x="232" y="665" width="5" height="7" fill="#b2dfdb"/>
<rect x="238" y="665" width="4" height="7" fill="#b2dfdb"/>
<rect x="243" y="667" width="4" height="5" fill="#b2dfdb"/>
<rect x="248" y="668" width="5" height="4" fill="#b2dfdb"/>
<rect x="254" y="669" width="4" height="3" fill="#b2dfdb"/>
<rect x="259" y="668" width="4" height="4" fill="#26a69a"/>
<rect x="264" y="668" width="4" height="4" fill="#26a69a"/>
<rect x="269" y="669" width="5" height="3" fill="#b2dfdb"/>
<rect x="275" y="670" width="4" height="2" fill="#b2dfdb"/>
<rect x="280" y="671" width="4" height="1" fill="#b2dfdb"/>
<rect x="285" y="671" width="5" height="2" fill="#ff5252"/>
<rect x="291" y="671" width="4" height="3" fill="#ff5252"/>
<rect x="296" y="671" width="4" height="5" fill="#ff5252"/>
<rect x="301" y="671" width="4" height="7" fill="#ff5252"/>
<rect x="306" y="671" width="5" height="7" fill="#ffcdd2"/>
<rect x="312" y="671" width="4" height="7" fill="#ff5252"/>
<rect x="317" y="671" width="4" height="7" fill="#ffcdd2"/>
<rect x="322" y="671" width="5" height="7" fill="#ff5252"/>
<rect x="328" y="671" width="4" height="7" fill="#ff5252"/>
<rect x="333" y="671" width="4" height="7" fill="#ff5252"/>
<rect x="338" y="671" width="4" height="7" fill="#ff5252"/>
<rect x="343" y="671" width="5" height="8" fill="#ff5252"/>
<rect x="349" y="671" width="4" height="8" fill="#ff5252"/>
<rect x="354" y="671" width="4" height="7" fill="#ffcdd2"/>
<rect x="359" y="671" width="5" height="7" fill="#ffcdd2"/>
<rect x="365" y="671" width="4" height="5" fill="#ffcdd2"/>
<rect x="370" y="671" width="4" height="5" fill="#ffcdd2"/>
<rect x="375" y="671" width="5" height="3" fill="#ffcdd2"/>
<rect x="381" y="670" width="4" height="2" fill="#26a69a"/>
<rect x="386" y="671" width="4" height="1" fill="#b2dfdb"/>
<rect x="391" y="670" width="4" height="2" fill="#26a69a"/>
<rect x="396" y="671" width="5" height="1" fill="#b2dfdb"/>
<rect x="402" y="671" width="4" height="1" fill="#ff5252"/>
<rect x="407" y="671" width="4" height="1" fill="#ff5252"/>
<rect x="412" y="671" width="5" height="2" fill="#ff5252"/>
<rect x="418" y="671" width="4" height="3" fill="#ff5252"/>
<rect x="423" y="671" width="4" height="3" fill="#ff5252"/>
<rect x="428" y="671" width="4" height="8" fill="#ff5252"/>
<rect x="433" y="671" width="5" height="12" fill="#ff5252"/>
<rect x="439" y="671" width="4" height="13" fill="#ff5252"/>
<rect x="444" y="671" width="4" height="11" fill="#ffcdd2"/>
<rect x="449" y="671" width="5" height="7" fill="#ffcdd2"/>
<rect x="455" y="671" width="4" height="3" fill="#ffcdd2"/>
<rect x="460" y="668" width="4" height="4" fill="#26a69a"/>
<rect x="465" y="663" width="4" height="9" fill="#26a69a"/>
<rect x="470" y="662" width="5" height="10" fill="#26a69a"/>
<rect x="476" y="663" width="4" height="9" fill="#b2dfdb"/>
<rect x="481" y="665" width="4" height="7" fill="#b2dfdb"/>
<rect x="486" y="667" width="5" height="5" fill="#b2dfdb"/>
<rect x="492" y="669" width="4" height="3" fill="#b2dfdb"/>
<rect x="497" y="668" width="4" height="4" fill="#26a69a"/>
<rect x="502" y="665" width="4" height="7" fill="#26a69a"/>
<rect x="507" y="665" width="5" height="7" fill="#b2dfdb"/>
<rect x="513" y="663" width="4" height="9" fill="#26a69a"/>
<rect x="518" y="663" width="4" height="9" fill="#26a69a"/>
<rect x="523" y="664" width="5" height="8" fill="#b2dfdb"/>
<rect x="529" y="665" width="4" height="7" fill="#b2dfdb"/>
<rect x="534" y="665" width="4" height="7" fill="#26a69a"/>
<rect x="539" y="665" width="5" height="7" fill="#b2dfdb"/>
<rect x="545" y="663" width="4" height="9" fill="#26a69a"/>
<rect x="550" y="661" width="4" height="11" fill="#26a69a"/>
<rect x="555" y="661" width="4" height="11" fill="#26a69a"/>
<rect x="560" y="660" width="5" height="12" fill="#26a69a"/>
<rect x="566" y="662" width="4" height="10" fill="#b2dfdb"/>
<rect x="571" y="664" width="4" height="8" fill="#b2dfdb"/>
<rect x="576" y="666" width="5" height="6" fill="#b2dfdb"/>
<rect x="582" y="671" width="4" height="1" fill="#b2dfdb"/>
<rect x="587" y="671" width="4" height="1" fill="#b2dfdb"/>
<rect x="592" y="670" width="4" height="2" fill="#26a69a"/>
<rect x="597" y="669" width="5" height="3" fill="#26a69a"/>
<rect x="603" y="670" width="4" height="2" fill="#b2dfdb"/>
<rect x="608" y="667" width="4" height="5" fill="#26a69a"/>
<rect x="613" y="665" width="5" height="7" fill="#26a69a"/>
<rect x="619" y="664" width="4" height="8" fill="#26a69a"/>
<rect x="624" y="663" width="4" height="9" fill="#26a69a"/>
<rect x="629" y="662" width="4" height="10" fill="#26a69a"/>
<rect x="634" y="663" width="5" height="9" fill="#b2dfdb"/>
<rect x="640" y="664" width="4" height="8" fill="#b2dfdb"/>
<rect x="645" y="665" width="4" height="7" fill="#b2dfdb"/>
<rect x="650" y="666" width="5" height="6" fill="#b2dfdb"/>
<rect x="656" y="665" width="4" height="7" fill="#26a69a"/>
<rect x="661" y="665" width="4" height="7" fill="#26a69a"/>
<rect x="666" y="665" width="4" height="7" fill="#b2dfdb"/>
<rect x="671" y="667" width="5" height="5" fill="#b2dfdb"/>
<rect x="677" y="669" width="4" height="3" fill="#b2dfdb"/>
<rect x="682" y="669" width="4" height="3" fill="#b2dfdb"/>
<rect x="687" y="668" width="5" height="4" fill="#26a69a"/>
<rect x="693" y="667" width="4" height="5" fill="#26a69a"/>
<rect x="698" y="668" width="4" height="4" fill="#b2dfdb"/>
<rect x="703" y="669" width="5" height="3" fill="#b2dfdb"/>
<rect x="709" y="670" width="4" height="2" fill="#b2dfdb"/>
<rect x="714" y="670" width="4" height="2" fill="#b2dfdb"/>
<rect x="719" y="670" width="4" height="2" fill="#b2dfdb"/>
<rect x="724" y="671" width="5" height="1" fill="#b2dfdb"/>
<rect x="730" y="670" width="4" height="2" fill="#26a69a"/>
<rect x="735" y="670" width="4" height="2" fill="#26a69a"/>
<rect x="740" y="671" width="5" height="2" fill="#ff5252"/>
<rect x="746" y="671" width="4" height="5" fill="#ff5252"/>
<rect x="751" y="671" width="4" height="6" fill="#ff5252"/>
<rect x="756" y="671" width="4" height="7" fill="#ff5252"/>
<rect x="761" y="671" width="5" height="8" fill="#ff5252"/>
<rect x="767" y="671" width="4" height="9" fill="#ff5252"/>
<rect x="772" y="671" width="4" height="10" fill="#ff5252"/>
<rect x="777" y="671" width="5" height="9" fill="#ffcdd2"/>
<rect x="783" y="671" width="4" height="9" fill="#ff5252"/>
<rect x="788" y="671" width="4" height="9" fill="#ffcdd2"/>
<rect x="793" y="671" width="4" height="8" fill="#ffcdd2"/>
<rect x="798" y="671" width="5" height="7" fill="#ffcdd2"/>
<rect x="804" y="671" width="4" height="7" fill="#ffcdd2"/>
<rect x="809" y="671" width="4" height="7" fill="#ff5252"/>
<rect x="814" y="671" width="5" height="6" fill="#ffcdd2"/>
<rect x="820" y="671" width="4" height="7" fill="#ff5252"/>
<rect x="825" y="671" width="4" height="5" fill="#ffcdd2"/>
<rect x="830" y="671" width="4" height="3" fill="#ffcdd2"/>
<rect x="835" y="671" width="5" height="2" fill="#ffcdd2"/>
<rect x="841" y="671" width="4" height="1" fill="#ffcdd2"/>
<rect x="846" y="670" width="4" height="2" fill="#26a69a"/>
<rect x="851" y="669" width="5" height="3" fill="#26a69a"/>
<rect x="857" y="669" width="4" height="3" fill="#b2dfdb"/>
<rect x="862" y="668" width="4" height="4" fill="#26a69a"/>
<rect x="867" y="667" width="5" height="5" fill="#26a69a"/>
<rect x="873" y="666" width="4" height="6" fill="#26a69a"/>
<rect x="878" y="666" width="4" height="6" fill="#26a69a"/>
<rect x="883" y="666" width="4" height="6" fill="#b2dfdb"/>
<rect x="888" y="667" width="5" height="5" fill="#b2dfdb"/>
<rect x="894" y="668" width="4" height="4" fill="#b2dfdb"/>
<rect x="899" y="668" width="4" height="4" fill="#b2dfdb"/>
<rect x="904" y="669" width="5" height="3" fill="#b2dfdb"/>
<rect x="910" y="670" width="4" height="2" fill="#b2dfdb"/>
<rect x="915" y="671" width="4" height="1" fill="#ff5252"/>
<rect x="920" y="671" width="4" height="1" fill="#ff5252"/>
<rect x="925" y="671" width="5" height="3" fill="#ff5252"/>
<rect x="931" y="671" width="4" height="6" fill="#ff5252"/>
<rect x="936" y="671" width="4" height="9" fill="#ff5252"/>
<rect x="941" y="671" width="5" height="9" fill="#ff5252"/>
<rect x="947" y="671" width="4" height="9" fill="#ffcdd2"/>
<rect x="952" y="671" width="4" height="8" fill="#ffcdd2"/>
<rect x="957" y="671" width="4" height="8" fill="#ffcdd2"/>
<rect x="962" y="671" width="5" height="6" fill="#ffcdd2"/>
<rect x="968" y="671" width="4" height="5" fill="#ffcdd2"/>
<rect x="973" y="671" width="4" height="5" fill="#ff5252"/>
<rect x="978" y="671" width="5" height="6" fill="#ff5252"/>
<rect x="984" y="671" width="4" height="5" fill="#ffcdd2"/>
<rect x="989" y="671" width="4" height="5" fill="#ffcdd2"/>
<rect x="994" y="671" width="4" height="3" fill="#ffcdd2"/>
<rect x="999" y="671" width="5" height="3" fill="#ffcdd2"/>
<rect x="1005" y="671" width="4" height="3" fill="#ffcdd2"/>
<rect x="1010" y="671" width="4" height="4" fill="#ff5252"/>
<rect x="1015" y="671" width="5" height="2" fill="#ffcdd2"/>
<rect x="1021" y="671" width="4" height="2" fill="#ffcdd2"/>
<rect x="1026" y="671" width="4" height="2" fill="#ffcdd2"/>
<rect x="1031" y="671" width="5" height="2" fill="#ff5252"/>
<rect x="1037" y="671" width="4" height="1" fill="#ffcdd2"/>
<rect x="1042" y="671" width="4" height="1" fill="#26a69a"/>
<rect x="1047" y="671" width="4" height="3" fill="#ff5252"/>
<rect x="1052" y="671" width="5" height="3" fill="#ff5252"/>
<rect x="1058" y="671" width="4" height="3" fill="#ffcdd2"/>
<rect x="1063" y="671" width="4" height="1" fill="#ffcdd2"/>
<rect x="1068" y="668" width="5" height="4" fill="#26a69a"/>
<rect x="1074" y="667" width="4" height="5" fill="#26a69a"/>
<rect x="1079" y="667" width="4" height="5" fill="#b2dfdb"/>
<rect x="1084" y="667" width="4" height="5" fill="#26a69a"/>
<rect x="1089" y="666" width="5" height="6" fill="#26a69a"/>
<rect x="1095" y="665" width="4" height="7" fill="#26a69a"/>
<rect x="1100" y="665" width="4" height="7" fill="#b2dfdb"/>
<rect x="1105" y="665" width="5" height="7" fill="#26a69a"/>
<rect x="1111" y="665" width="4" height="7" fill="#b2dfdb"/>
<rect x="1116" y="666" width="4" height="6" fill="#b2dfdb"/>
<rect x="1121" y="666" width="4" height="6" fill="#b2dfdb"/>
<rect x="1126" y="666" width="5" height="6" fill="#26a69a"/>
<rect x="1132" y="666" width="4" height="6" fill="#b2dfdb"/>
<rect x="1137" y="666" width="4" height="6" fill="#26a69a"/>
<rect x="1142" y="667" width="5" height="5" fill="#b2dfdb"/>
<rect x="1148" y="667" width="4" height="5" fill="#26a69a"/>
<rect x="1153" y="666" width="4" height="6" fill="#26a69a"/>
<rect x="1158" y="667" width="4" height="5" fill="#b2dfdb"/>
<rect x="1163" y="667" width="5" height="5" fill="#b2dfdb"/>
<rect x="1169" y="668" width="4" height="4" fill="#b2dfdb"/>
<rect x="1174" y="670" width="4" height="2" fill="#b2dfdb"/>
<rect x="1179" y="670" width="5" height="2" fill="#b2dfdb"/>
<rect x="1185" y="670" width="4" height="2" fill="#26a69a"/>
<rect x="1190" y="670" width="4" height="2" fill="#26a69a"/>
<rect x="1195" y="671" width="5" height="1" fill="#b2dfdb"/>
<rect x="1201" y="671" width="4" height="2" fill="#ff5252"/>
<rect x="1206" y="671" width="4" height="3" fill="#ff5252"/>
<rect x="1211" y="671" width="4" height="3" fill="#ff5252"/>
<rect x="1216" y="671" width="5" height="3" fill="#ff5252"/>
<rect x="1222" y="671" width="4" height="3" fill="#ff5252"/>
<rect x="1227" y="671" width="4" height="2" fill="#ffcdd2"/>
<rect x="1232" y="671" width="5" height="3" fill="#ff5252"/>
<rect x="1238" y="671" width="4" height="3" fill="#ffcdd2"/>
<rect x="1243" y="671" width="4" height="3" fill="#ff5252"/>
</g>
<path d="M7.2 674.6L12.5 674.4L18.5 673.4L23.5 673.5L28.5 674.0L34.5 676.8L39.5 681.5L44.5 686.9L50.5 688.5L55.5 687.1L60.5 687.7L65.5 687.5L71.5 686.8L76.5 686.3L81.5 685.7L87.5 684.9L92.5 684.4L97.5 684.9L102.5 685.9L108.5 685.8L113.5 686.6L118.5 687.1L124.5 689.2L129.5 691.2L134.5 691.0L139.5 690.6L145.5 692.0L150.5 693.0L155.5 693.3L161.5 694.4L166.5 694.2L171.5 692.7L176.5 690.7L182.5 689.1L187.5 687.4L192.5 685.8L198.5 683.8L203.5 682.4L208.5 679.3L214.5 676.6L219.5 674.4L224.5 671.5L229.5 670.6L235.5 670.1L240.5 669.5L245.5 670.3L251.5 670.8L256.5 671.3L261.5 669.7L266.5 668.8L272.5 668.9L277.5 670.2L282.5 670.5L288.5 671.5L293.5 673.9L298.5 677.2L303.5 680.5L309.5 682.0L314.5 683.8L319.5 684.3L325.5 685.9L330.5 687.5L335.5 689.2L340.5 690.8L346.5 693.0L351.5 694.9L356.5 695.9L362.5 696.5L367.5 696.4L372.5 696.5L378.5 695.1L383.5 692.4L388.5 692.8L393.5 692.1L399.5 692.3L404.5 692.9L409.5 693.0L415.5 693.5L420.5 695.2L425.5 696.4L430.5 702.6L436.5 709.5L441.5 713.7L446.5 714.4L452.5 711.3L457.5 707.7L462.5 702.4L467.5 695.7L473.5 692.2L478.5 691.6L483.5 691.9L489.5 692.3L494.5 693.6L499.5 692.5L504.5 688.3L510.5 686.9L515.5 683.1L520.5 680.5L526.5 679.8L531.5 678.9L536.5 677.2L542.5 676.1L547.5 672.6L552.5 667.6L557.5 664.6L563.5 661.6L568.5 661.5L573.5 661.3L579.5 662.5L584.5 666.8L589.5 667.1L594.5 665.5L600.5 663.9L605.5 665.4L610.5 661.7L616.5 657.2L621.5 655.1L626.5 651.9L631.5 649.1L637.5 647.7L642.5 646.6L647.5 647.0L653.5 646.6L658.5 644.3L663.5 641.9L668.5 640.7L674.5 642.0L679.5 643.4L684.5 643.4L690.5 640.9L695.5 638.9L700.5 639.0L706.5 640.3L711.5 640.6L716.5 640.7L721.5 640.8L727.5 641.3L732.5 640.6L737.5 639.5L743.5 642.5L748.5 645.8L753.5 648.5L758.5 650.3L764.5 653.4L769.5 656.8L774.5 659.3L780.5 661.2L785.5 663.3L790.5 665.2L795.5 666.2L801.5 666.4L806.5 667.5L811.5 669.4L817.5 669.6L822.5 671.8L827.5 671.1L832.5 669.2L838.5 668.3L843.5 667.6L848.5 666.2L854.5 664.9L859.5 664.5L864.5 662.9L870.5 661.0L875.5 659.0L880.5 657.5L885.5 656.7L891.5 656.8L896.5 656.1L901.5 655.6L907.5 655.7L912.5 656.6L917.5 657.9L922.5 658.3L928.5 660.8L933.5 665.3L938.5 669.3L944.5 672.0L949.5 673.8L954.5 674.5L959.5 676.0L965.5 675.9L970.5 675.3L975.5 676.7L981.5 678.5L986.5 678.9L991.5 679.2L996.5 678.4L1002.5 678.6L1007.5 679.1L1012.5 680.4L1018.5 679.7L1023.5 679.5L1028.5 679.3L1034.5 680.0L1039.5 679.2L1044.5 678.7L1049.5 681.0L1055.5 682.4L1060.5 682.3L1065.5 680.5L1071.5 677.0L1076.5 674.6L1081.5 674.1L1086.5 672.8L1092.5 670.8L1097.5 668.0L1102.5 666.6L1108.5 664.9L1113.5 663.4L1118.5 663.1L1123.5 662.1L1129.5 660.7L1134.5 660.1L1139.5 658.7L1145.5 658.6L1150.5 657.5L1155.5 655.6L1160.5 654.8L1166.5 654.7L1171.5 655.1L1176.5 656.1L1182.5 656.5L1187.5 656.1L1192.5 655.4L1198.5 656.6L1203.5 658.2L1208.5 659.0L1213.5 659.5L1219.5 659.9L1224.5 660.5L1229.5 660.4L1235.5 661.5L1240.5 661.7L1245.5 662.2" stroke="#2962ff" stroke-width="1.05" fill="none" stroke-linejoin="round"/>
<path d="M7.2 680.4L12.5 679.2L18.5 678.1L23.5 677.1L28.5 676.5L34.5 676.6L39.5 677.5L44.5 679.4L50.5 681.2L55.5 682.4L60.5 683.5L65.5 684.3L71.5 684.8L76.5 685.1L81.5 685.2L87.5 685.2L92.5 685.0L97.5 685.0L102.5 685.2L108.5 685.3L113.5 685.5L118.5 685.9L124.5 686.5L129.5 687.5L134.5 688.2L139.5 688.7L145.5 689.3L150.5 690.1L155.5 690.7L161.5 691.4L166.5 692.0L171.5 692.1L176.5 691.8L182.5 691.3L187.5 690.5L192.5 689.6L198.5 688.4L203.5 687.2L208.5 685.6L214.5 683.8L219.5 681.9L224.5 679.8L229.5 678.0L235.5 676.4L240.5 675.0L245.5 674.1L251.5 673.4L256.5 673.0L261.5 672.3L266.5 671.6L272.5 671.1L277.5 670.9L282.5 670.8L288.5 671.0L293.5 671.6L298.5 672.7L303.5 674.2L309.5 675.8L314.5 677.4L319.5 678.8L325.5 680.2L330.5 681.6L335.5 683.2L340.5 684.7L346.5 686.3L351.5 688.1L356.5 689.6L362.5 691.0L367.5 692.1L372.5 693.0L378.5 693.4L383.5 693.2L388.5 693.1L393.5 692.9L399.5 692.8L404.5 692.8L409.5 692.8L415.5 693.0L420.5 693.4L425.5 694.0L430.5 695.7L436.5 698.5L441.5 701.5L446.5 704.1L452.5 705.5L457.5 706.0L462.5 705.2L467.5 703.3L473.5 701.1L478.5 699.2L483.5 697.7L489.5 696.7L494.5 696.0L499.5 695.3L504.5 693.9L510.5 692.5L515.5 690.6L520.5 688.6L526.5 686.8L531.5 685.3L536.5 683.7L542.5 682.2L547.5 680.2L552.5 677.7L557.5 675.1L563.5 672.4L568.5 670.2L573.5 668.4L579.5 667.2L584.5 667.2L589.5 667.1L594.5 666.8L600.5 666.2L605.5 666.1L610.5 665.2L616.5 663.6L621.5 661.9L626.5 659.9L631.5 657.7L637.5 655.7L642.5 653.9L647.5 652.5L653.5 651.3L658.5 649.9L663.5 648.3L668.5 646.8L674.5 645.8L679.5 645.4L684.5 645.0L690.5 644.2L695.5 643.1L700.5 642.3L706.5 641.9L711.5 641.6L716.5 641.4L721.5 641.3L727.5 641.3L732.5 641.2L737.5 640.8L743.5 641.2L748.5 642.1L753.5 643.4L758.5 644.8L764.5 646.5L769.5 648.6L774.5 650.7L780.5 652.8L785.5 654.9L790.5 656.9L795.5 658.8L801.5 660.3L806.5 661.7L811.5 663.3L817.5 664.5L822.5 666.0L827.5 667.0L832.5 667.5L838.5 667.6L843.5 667.6L848.5 667.3L854.5 666.8L859.5 666.4L864.5 665.7L870.5 664.7L875.5 663.6L880.5 662.4L885.5 661.2L891.5 660.3L896.5 659.5L901.5 658.7L907.5 658.1L912.5 657.8L917.5 657.8L922.5 657.9L928.5 658.5L933.5 659.8L938.5 661.7L944.5 663.8L949.5 665.8L954.5 667.5L959.5 669.2L965.5 670.6L970.5 671.5L975.5 672.5L981.5 673.7L986.5 674.8L991.5 675.7L996.5 676.2L1002.5 676.7L1007.5 677.2L1012.5 677.8L1018.5 678.2L1023.5 678.4L1028.5 678.6L1034.5 678.9L1039.5 679.0L1044.5 678.9L1049.5 679.3L1055.5 679.9L1060.5 680.4L1065.5 680.4L1071.5 679.7L1076.5 678.7L1081.5 677.8L1086.5 676.8L1092.5 675.6L1097.5 674.1L1102.5 672.6L1108.5 671.1L1113.5 669.5L1118.5 668.2L1123.5 667.0L1129.5 665.8L1134.5 664.6L1139.5 663.4L1145.5 662.5L1150.5 661.5L1155.5 660.3L1160.5 659.2L1166.5 658.3L1171.5 657.7L1176.5 657.4L1182.5 657.2L1187.5 657.0L1192.5 656.6L1198.5 656.6L1203.5 657.0L1208.5 657.4L1213.5 657.8L1219.5 658.2L1224.5 658.7L1229.5 659.0L1235.5 659.5L1240.5 659.9L1245.5 660.4" stroke="#ff6d00" stroke-width="1.05" fill="none" stroke-linejoin="round"/>
</g>
<g clip-path="url(#cr)">
<rect x="10" y="733" width="1394.5" height="51.5" fill="#7e57c2" fill-opacity="0.1"/>
<path d="M10 733.5H1405M10 784.5H1405" stroke="#6a6d78" stroke-width="1" stroke-dasharray="5 6" fill="none"/>
<path d="M10 758.5H1405" stroke="#a9acb5" stroke-width="1" stroke-dasharray="5 6" fill="none"/>
<path d="M7.2 761.6L12.5 760.2L18.5 758.9L23.5 757.6L28.5 757.8L34.5 758.6L39.5 760.2L44.5 762.6L50.5 763.9L55.5 764.7L60.5 765.7L65.5 766.6L71.5 767.2L76.5 767.9L81.5 768.1L87.5 768.4L92.5 769.2L97.5 769.9L102.5 770.6L108.5 770.3L113.5 769.6L118.5 768.7L124.5 769.2L129.5 770.5L134.5 770.8L139.5 771.1L145.5 772.1L150.5 773.0L155.5 773.9L161.5 775.1L166.5 775.9L171.5 775.8L176.5 775.2L182.5 775.0L187.5 774.4L192.5 773.8L198.5 772.3L203.5 770.9L208.5 769.4L214.5 767.8L219.5 765.7L224.5 763.1L229.5 761.3L235.5 759.4L240.5 757.7L245.5 757.2L251.5 756.8L256.5 756.5L261.5 755.3L266.5 754.3L272.5 754.1L277.5 754.2L282.5 754.8L288.5 755.9L293.5 757.5L298.5 759.9L303.5 761.9L309.5 763.3L314.5 765.0L319.5 765.7L325.5 766.9L330.5 768.1L335.5 770.5L340.5 772.9L346.5 775.0L351.5 776.8L356.5 778.7L362.5 780.4L367.5 781.2L372.5 781.8L378.5 781.3L383.5 780.7L388.5 780.7L393.5 780.7L399.5 780.6L404.5 780.6L409.5 780.3L415.5 780.0L420.5 779.9L425.5 779.7L430.5 780.6L436.5 781.6L441.5 782.6L446.5 782.4L452.5 782.1L457.5 782.3L462.5 781.1L467.5 779.7L473.5 778.5L478.5 777.6L483.5 777.0L489.5 776.2L494.5 775.3L499.5 773.9L504.5 770.9L510.5 768.0L515.5 765.0L520.5 763.1L526.5 762.4L531.5 761.8L536.5 761.6L542.5 762.0L547.5 761.3L552.5 759.7L557.5 758.2L563.5 756.4L568.5 755.0L573.5 754.0L579.5 754.1L584.5 754.5L589.5 754.7L594.5 754.4L600.5 753.7L605.5 753.6L610.5 752.9L616.5 751.9L621.5 751.7L626.5 751.7L631.5 751.4L637.5 751.3L642.5 750.7L647.5 750.3L653.5 749.4L658.5 747.5L663.5 746.1L668.5 745.2L674.5 744.9L679.5 744.1L684.5 743.8L690.5 743.3L695.5 742.4L700.5 742.3L706.5 742.5L711.5 742.3L716.5 742.1L721.5 741.6L727.5 741.2L732.5 741.0L737.5 740.7L743.5 741.5L748.5 742.0L753.5 742.4L758.5 743.0L764.5 744.4L769.5 746.2L774.5 747.4L780.5 748.4L785.5 749.6L790.5 751.1L795.5 752.4L801.5 753.4L806.5 755.1L811.5 757.3L817.5 757.7L822.5 758.7L827.5 758.9L832.5 758.9L838.5 758.5L843.5 758.0L848.5 757.3L854.5 756.6L859.5 755.9L864.5 754.7L870.5 753.6L875.5 752.5L880.5 751.1L885.5 749.4L891.5 748.6L896.5 746.7L901.5 745.7L907.5 745.1L912.5 744.8L917.5 744.7L922.5 744.6L928.5 745.5L933.5 747.0L938.5 749.1L944.5 751.1L949.5 753.2L954.5 755.0L959.5 757.0L965.5 758.1L970.5 759.4L975.5 761.4L981.5 763.4L986.5 764.7L991.5 765.8L996.5 766.8L1002.5 767.1L1007.5 766.8L1012.5 766.7L1018.5 766.0L1023.5 765.7L1028.5 765.7L1034.5 765.7L1039.5 765.7L1044.5 765.9L1049.5 766.3L1055.5 766.4L1060.5 766.4L1065.5 765.8L1071.5 765.0L1076.5 764.0L1081.5 763.4L1086.5 762.1L1092.5 761.3L1097.5 759.9L1102.5 758.9L1108.5 757.3L1113.5 756.3L1118.5 755.4L1123.5 753.4L1129.5 751.4L1134.5 749.9L1139.5 748.8L1145.5 748.7L1150.5 748.1L1155.5 746.6L1160.5 745.7L1166.5 745.3L1171.5 745.3L1176.5 745.3L1182.5 745.2L1187.5 745.0L1192.5 744.2L1198.5 744.5L1203.5 745.2L1208.5 745.5L1213.5 746.1L1219.5 746.2L1224.5 746.7L1229.5 747.2L1235.5 748.0L1240.5 748.4L1245.5 748.8" stroke="#fbe94a" stroke-width="1.3" fill="none" stroke-linejoin="round"/>
<path d="M7.2 763.6L12.5 760.5L18.5 756.0L23.5 760.4L28.5 763.2L34.5 774.0L39.5 782.2L44.5 786.9L50.5 773.6L55.5 763.1L60.5 768.8L65.5 767.0L71.5 765.4L76.5 766.2L81.5 766.2L87.5 765.1L92.5 766.0L97.5 770.6L102.5 773.9L108.5 768.8L113.5 773.2L118.5 773.4L124.5 780.4L129.5 782.0L134.5 772.4L139.5 771.8L145.5 779.0L150.5 779.3L155.5 778.5L161.5 781.9L166.5 777.0L171.5 769.2L176.5 765.5L182.5 766.9L187.5 765.0L192.5 764.2L198.5 760.3L203.5 762.2L208.5 751.0L214.5 749.2L219.5 749.6L224.5 743.5L229.5 753.5L235.5 754.7L240.5 753.2L245.5 761.8L251.5 760.7L256.5 761.7L261.5 748.9L266.5 750.6L272.5 757.0L277.5 763.9L282.5 759.4L288.5 763.6L293.5 772.1L298.5 777.9L303.5 781.1L309.5 774.1L314.5 776.6L319.5 772.0L325.5 777.4L330.5 779.3L335.5 781.9L340.5 783.5L346.5 787.1L351.5 788.8L356.5 786.4L362.5 786.8L367.5 783.9L372.5 786.0L378.5 774.5L383.5 764.9L388.5 777.0L393.5 772.3L399.5 776.3L404.5 778.8L409.5 777.4L415.5 780.3L420.5 785.6L425.5 786.2L430.5 798.2L436.5 801.5L441.5 796.7L446.5 784.3L452.5 770.2L457.5 767.5L462.5 759.6L467.5 753.0L473.5 759.5L478.5 766.3L483.5 768.7L489.5 769.9L494.5 773.0L499.5 765.9L504.5 756.0L510.5 762.0L515.5 754.7L520.5 756.4L526.5 760.6L531.5 759.8L536.5 756.9L542.5 757.8L547.5 749.7L552.5 744.0L557.5 747.4L563.5 745.4L568.5 753.4L573.5 752.6L579.5 757.3L584.5 767.0L589.5 757.3L594.5 752.1L600.5 751.0L605.5 759.1L610.5 746.9L616.5 743.6L621.5 747.3L626.5 743.9L631.5 742.5L637.5 744.9L642.5 744.1L647.5 747.4L653.5 745.1L658.5 739.6L663.5 737.7L668.5 739.3L674.5 747.0L679.5 747.3L684.5 743.1L690.5 736.6L695.5 735.5L700.5 741.7L706.5 745.3L711.5 742.3L716.5 741.2L721.5 740.1L727.5 740.3L732.5 736.4L737.5 733.9L743.5 751.0L748.5 753.4L753.5 753.0L758.5 750.8L764.5 757.2L769.5 760.3L774.5 759.0L780.5 757.9L785.5 760.4L790.5 761.3L795.5 758.1L801.5 754.9L806.5 759.6L811.5 764.8L817.5 757.7L822.5 767.1L827.5 755.2L832.5 750.3L838.5 752.6L843.5 753.0L848.5 748.8L854.5 747.8L859.5 751.1L864.5 745.3L870.5 742.3L875.5 740.0L880.5 739.4L885.5 741.5L891.5 745.4L896.5 741.1L901.5 740.8L907.5 743.0L912.5 748.0L917.5 751.4L922.5 746.8L928.5 760.8L933.5 772.3L938.5 774.1L944.5 771.1L949.5 768.9L954.5 764.6L959.5 769.1L965.5 761.8L970.5 758.8L975.5 768.9L981.5 771.8L986.5 766.3L991.5 766.5L996.5 760.5L1002.5 765.6L1007.5 767.4L1012.5 772.5L1018.5 761.7L1023.5 764.5L1028.5 764.1L1034.5 769.4L1039.5 761.2L1044.5 762.5L1049.5 774.6L1055.5 773.0L1060.5 766.5L1065.5 758.2L1071.5 749.3L1076.5 751.1L1081.5 758.5L1086.5 754.6L1092.5 750.5L1097.5 745.3L1102.5 750.0L1108.5 747.3L1113.5 746.2L1118.5 750.5L1123.5 747.3L1129.5 743.9L1134.5 746.5L1139.5 742.1L1145.5 747.7L1150.5 742.5L1155.5 738.2L1160.5 742.2L1166.5 743.9L1171.5 745.8L1176.5 749.6L1182.5 746.4L1187.5 742.6L1192.5 740.1L1198.5 751.0L1203.5 754.4L1208.5 750.6L1213.5 749.7L1219.5 749.1L1224.5 749.5L1229.5 746.1L1235.5 753.7L1240.5 749.3L1245.5 750.7" stroke="#7e57c2" stroke-width="1.05" fill="none" stroke-linejoin="round"/>
</g>
<rect x="1405" y="27" width="1" height="812" fill="#3a3e4b"/>
<rect x="11" y="811" width="1459" height="1" fill="#3a3e4b"/>
<text x="1415.3" y="44.7" font-size="12" fill="#50535e" textLength="20.5" lengthAdjust="spacingAndGlyphs" stroke="#50535e" stroke-width="0.2">USD</text>
<clipPath id="cax"><rect x="1406" y="50.3" width="64" height="10"/></clipPath>
<g clip-path="url(#cax)" opacity="0.22">
<text x="1413.8" y="53.2" font-size="12" fill="#50535e" textLength="40.8" lengthAdjust="spacingAndGlyphs" stroke="#50535e" stroke-width="0.25">1.30000</text>
</g>
<text x="1413.8" y="97.6" font-size="12" fill="#50535e" textLength="40.8" lengthAdjust="spacingAndGlyphs" stroke="#50535e" stroke-width="0.25">1.28000</text>
<text x="1413.8" y="142.1" font-size="12" fill="#50535e" textLength="40.8" lengthAdjust="spacingAndGlyphs" stroke="#50535e" stroke-width="0.25">1.26000</text>
<text x="1413.8" y="231.0" font-size="12" fill="#50535e" textLength="40.8" lengthAdjust="spacingAndGlyphs" stroke="#50535e" stroke-width="0.25">1.22000</text>
<text x="1413.8" y="364.3" font-size="12" fill="#50535e" textLength="40.8" lengthAdjust="spacingAndGlyphs" stroke="#50535e" stroke-width="0.25">1.16000</text>
<text x="1413.8" y="408.7" font-size="12" fill="#50535e" textLength="40.8" lengthAdjust="spacingAndGlyphs" stroke="#50535e" stroke-width="0.25">1.14000</text>
<text x="1413.8" y="453.2" font-size="12" fill="#50535e" textLength="40.8" lengthAdjust="spacingAndGlyphs" stroke="#50535e" stroke-width="0.25">1.12000</text>
<text x="1413.8" y="497.6" font-size="12" fill="#50535e" textLength="40.8" lengthAdjust="spacingAndGlyphs" stroke="#50535e" stroke-width="0.25">1.10000</text>
<text x="1413.8" y="542.0" font-size="12" fill="#50535e" textLength="40.8" lengthAdjust="spacingAndGlyphs" stroke="#50535e" stroke-width="0.25">1.08000</text>
<text x="1413.8" y="586.5" font-size="12" fill="#50535e" textLength="40.8" lengthAdjust="spacingAndGlyphs" stroke="#50535e" stroke-width="0.25">1.06000</text>
<text x="1413.8" y="709.5" font-size="12" fill="#50535e" textLength="47.5" lengthAdjust="spacingAndGlyphs" stroke="#50535e" stroke-width="0.25">−0.02000</text>
<text x="1413.8" y="732.7" font-size="12" fill="#50535e" textLength="28.5" lengthAdjust="spacingAndGlyphs" stroke="#50535e" stroke-width="0.25">75.00</text>
<text x="1413.8" y="762.1" font-size="12" fill="#50535e" textLength="28.5" lengthAdjust="spacingAndGlyphs" stroke="#50535e" stroke-width="0.25">50.00</text>
<text x="1413.8" y="794.4" font-size="12" fill="#50535e" textLength="28.5" lengthAdjust="spacingAndGlyphs" stroke="#50535e" stroke-width="0.25">25.00</text>
<path d="M1405.7 95h53.3a2 2 0 0 1 2 2v12.700000000000003a2 2 0 0 1 -2 2h-53.3z" fill="#000"/>
<text x="1413.8" y="107.6" font-size="12" fill="#fff" font-weight="bold" textLength="40.8" lengthAdjust="spacingAndGlyphs">1.26826</text>
<path d="M1405.7 111.7h53.3a2 2 0 0 1 2 2v12.700000000000003a2 2 0 0 1 -2 2h-53.3z" fill="#000"/>
<text x="1413.8" y="124.4" font-size="12" fill="#fff" font-weight="bold" textLength="40.8" lengthAdjust="spacingAndGlyphs">1.26760</text>
<path d="M1405.7 192.7h53.3a2 2 0 0 1 2 2v13.200000000000017a2 2 0 0 1 -2 2h-53.3z" fill="#131722"/>
<text x="1413.8" y="205.6" font-size="12" fill="#fff" font-weight="bold" textLength="40.8" lengthAdjust="spacingAndGlyphs">1.23466</text>
<path d="M1405.7 209.9h53.3a2 2 0 0 1 2 2v12.599999999999994a2 2 0 0 1 -2 2h-53.3z" fill="#131722"/>
<text x="1413.8" y="222.5" font-size="12" fill="#fff" font-weight="bold" textLength="40.8" lengthAdjust="spacingAndGlyphs">1.23450</text>
<path d="M1405.7 263.3h53.3a2 2 0 0 1 2 2v12.399999999999977a2 2 0 0 1 -2 2h-53.3z" fill="#9c27b0"/>
<text x="1413.8" y="275.8" font-size="12" fill="#fff" font-weight="bold" textLength="40.8" lengthAdjust="spacingAndGlyphs">1.20000</text>
<path d="M1405.7 297.3h53.3a2 2 0 0 1 2 2v12.699999999999989a2 2 0 0 1 -2 2h-53.3z" fill="#131722"/>
<text x="1413.8" y="309.9" font-size="12" fill="#fff" font-weight="bold" textLength="40.8" lengthAdjust="spacingAndGlyphs">1.18452</text>
<path d="M1405.7 314h53.3a2 2 0 0 1 2 2v12.800000000000011a2 2 0 0 1 -2 2h-53.3z" fill="#131722"/>
<text x="1413.8" y="326.7" font-size="12" fill="#fff" font-weight="bold" textLength="40.8" lengthAdjust="spacingAndGlyphs">1.18415</text>
<path d="M1405.7 587.4h53.3a2 2 0 0 1 2 2v12.300000000000068a2 2 0 0 1 -2 2h-53.3z" fill="#f23645"/>
<text x="1413.8" y="599.8" font-size="12" fill="#fff" font-weight="bold" textLength="40.8" lengthAdjust="spacingAndGlyphs">1.05470</text>
<path d="M1405.7 162.5h57a2 2 0 0 1 2 2v26.2a2 2 0 0 1 -2 2h-57z" fill="#ef5350"/>
<text x="1413.8" y="174.8" font-size="12" fill="#fff" font-weight="bold" textLength="40.8" lengthAdjust="spacingAndGlyphs">1.24534</text>
<text x="1413.2" y="188.8" font-size="12" fill="#fcdcdc" textLength="45.2" lengthAdjust="spacingAndGlyphs" stroke="#fcdcdc" stroke-width="0.35">08:17:01</text>
<rect x="1352" y="162.5" width="52" height="16" rx="2" fill="#ef5350"/>
<text x="1356.6" y="174.5" font-size="12" fill="#fff" textLength="42.1" lengthAdjust="spacingAndGlyphs" stroke="#fff" stroke-width="0.55">GBPUSD</text>
<rect x="1363" y="631" width="41.2" height="16.6" rx="2" fill="#ff6d00"/>
<path d="M1405.7 631h53.09999999999991a2 2 0 0 1 2 2v12.600000000000023a2 2 0 0 1 -2 2h-53.09999999999991z" fill="#ff6d00"/>
<text x="1398.5" y="643.6" font-size="12" fill="#fff" font-weight="bold" text-anchor="end" textLength="30.8" lengthAdjust="spacingAndGlyphs">Signal</text>
<text x="1412.7" y="643.6" font-size="12" fill="#fff" font-weight="bold" textLength="41.9" lengthAdjust="spacingAndGlyphs">0.00627</text>
<rect x="1364" y="647.6" width="40.2" height="16.8" rx="2" fill="#2962ff"/>
<path d="M1405.7 647.6h53.09999999999991a2 2 0 0 1 2 2v12.799999999999955a2 2 0 0 1 -2 2h-53.09999999999991z" fill="#2962ff"/>
<text x="1398.5" y="660.3" font-size="12" fill="#fff" font-weight="bold" text-anchor="end" textLength="30.0" lengthAdjust="spacingAndGlyphs">MACD</text>
<text x="1412.7" y="660.3" font-size="12" fill="#fff" font-weight="bold" textLength="41.9" lengthAdjust="spacingAndGlyphs">0.00524</text>
<rect x="1340" y="664.4" width="64.2" height="17.3" rx="2" fill="#ef5350"/>
<path d="M1405.7 664.4h59.09999999999991a2 2 0 0 1 2 2v13.300000000000068a2 2 0 0 1 -2 2h-59.09999999999991z" fill="#ef5350"/>
<text x="1398.5" y="677.3" font-size="12" fill="#fff" font-weight="bold" text-anchor="end" textLength="54.1" lengthAdjust="spacingAndGlyphs">Histogram</text>
<text x="1412.7" y="677.3" font-size="12" fill="#fff" font-weight="bold" textLength="48.3" lengthAdjust="spacingAndGlyphs">−0.00103</text>
<rect x="1324" y="726" width="80.2" height="16.7" rx="2" fill="#ffeb3b"/>
<path d="M1405.7 726h40.09999999999991a2 2 0 0 1 2 2v12.700000000000045a2 2 0 0 1 -2 2h-40.09999999999991z" fill="#ffeb3b"/>
<text x="1398.5" y="738.6" font-size="12" fill="#131722" text-anchor="end" textLength="69.9" lengthAdjust="spacingAndGlyphs">RSI-based MA</text>
<text x="1412.7" y="738.6" font-size="12" fill="#131722" textLength="29.3" lengthAdjust="spacingAndGlyphs">57.63</text>
<rect x="1378" y="742.7" width="26.2" height="16.7" rx="2" fill="#7e57c2"/>
<path d="M1405.7 742.7h40.09999999999991a2 2 0 0 1 2 2v12.699999999999932a2 2 0 0 1 -2 2h-40.09999999999991z" fill="#7e57c2"/>
<text x="1398.5" y="755.3" font-size="12" fill="#fff" font-weight="bold" text-anchor="end" textLength="15.5" lengthAdjust="spacingAndGlyphs">RSI</text>
<text x="1412.7" y="755.3" font-size="12" fill="#fff" font-weight="bold" textLength="29.3" lengthAdjust="spacingAndGlyphs">55.93</text>
<text x="105.0" y="829.0" font-size="12" fill="#50535e" textLength="16.5" lengthAdjust="spacingAndGlyphs" stroke="#50535e" stroke-width="0.2">Jul</text>
<text x="214.5" y="829.0" font-size="12" fill="#50535e" textLength="19.3" lengthAdjust="spacingAndGlyphs" stroke="#50535e" stroke-width="0.2">Aug</text>
<text x="336.6" y="829.0" font-size="12" fill="#50535e" textLength="18.9" lengthAdjust="spacingAndGlyphs" stroke="#50535e" stroke-width="0.2">Sep</text>
<text x="452.8" y="829.0" font-size="12" fill="#50535e" textLength="18.9" lengthAdjust="spacingAndGlyphs" stroke="#50535e" stroke-width="0.2">Oct</text>
<text x="563.4" y="829.0" font-size="12" fill="#50535e" textLength="19.8" lengthAdjust="spacingAndGlyphs" stroke="#50535e" stroke-width="0.2">Nov</text>
<text x="680.1" y="829.0" font-size="12" fill="#50535e" textLength="18.9" lengthAdjust="spacingAndGlyphs" stroke="#50535e" stroke-width="0.2">Dec</text>
<text x="912.7" y="829.0" font-size="12" fill="#50535e" textLength="19.4" lengthAdjust="spacingAndGlyphs" stroke="#50535e" stroke-width="0.2">Feb</text>
<text x="1018.1" y="829.0" font-size="12" fill="#50535e" textLength="19.8" lengthAdjust="spacingAndGlyphs" stroke="#50535e" stroke-width="0.2">Mar</text>
<text x="1141.0" y="829.0" font-size="12" fill="#50535e" textLength="18.4" lengthAdjust="spacingAndGlyphs" stroke="#50535e" stroke-width="0.2">Apr</text>
<text x="1244.9" y="829.0" font-size="12" fill="#50535e" textLength="21.3" lengthAdjust="spacingAndGlyphs" stroke="#50535e" stroke-width="0.2">May</text>
<text x="1367.8" y="829.0" font-size="12" fill="#50535e" textLength="18.9" lengthAdjust="spacingAndGlyphs" stroke="#50535e" stroke-width="0.2">Jun</text>
<text x="792.1" y="829.0" font-size="12" fill="#131722" font-weight="bold" textLength="27.4" lengthAdjust="spacingAndGlyphs">2023</text>
<g fill="#131722"><path d="M9.8 851.1H18.7V860.9H13.9V855H9.8Z"/><circle cx="20.9" cy="852.9" r="1.75"/><path d="M24.6 851.1H29.2L26 860.9H21.3Z"/></g>
<text x="33.6" y="860.7" font-size="13" fill="#1e222d" textLength="69.5" lengthAdjust="spacingAndGlyphs">TradingView</text>
</svg></body></html>
